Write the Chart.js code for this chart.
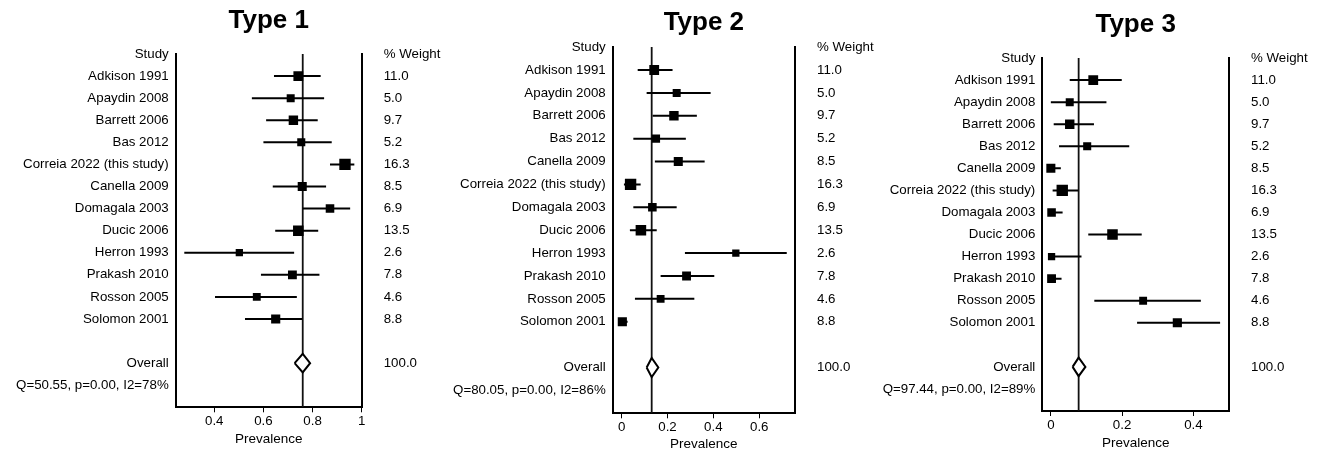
<!DOCTYPE html>
<html>
<head>
<meta charset="utf-8">
<script src="https://cdn.jsdelivr.net/npm/chart.js@4.4.0/dist/chart.umd.min.js"></script>
<style>
  html, body { margin: 0; padding: 0; background: #fff; }
  body { width: 1320px; height: 452px; position: relative; overflow: hidden; }
  .panel { position: absolute; top: 0; height: 452px; }
</style>
</head>
<body>
<div class="panel" style="left:0px;width:450px"><canvas id="type1"></canvas></div>
<div class="panel" style="left:435px;width:450px"><canvas id="type2"></canvas></div>
<div class="panel" style="left:860px;width:460px"><canvas id="type3"></canvas></div>
<script>
// Type 1 lists Correia before Canella, Types 2 and 3 the other way round
const studies1 = ['Adkison 1991', 'Apaydin 2008', 'Barrett 2006', 'Bas 2012', 'Correia 2022 (this study)',
  'Canella 2009', 'Domagala 2003', 'Ducic 2006', 'Herron 1993', 'Prakash 2010', 'Rosson 2005', 'Solomon 2001'];
const studies23 = ['Adkison 1991', 'Apaydin 2008', 'Barrett 2006', 'Bas 2012', 'Canella 2009',
  'Correia 2022 (this study)', 'Domagala 2003', 'Ducic 2006', 'Herron 1993', 'Prakash 2010', 'Rosson 2005', 'Solomon 2001'];
const weights1 = [11.0, 5.0, 9.7, 5.2, 16.3, 8.5, 6.9, 13.5, 2.6, 7.8, 4.6, 8.8];
const weights23 = [11.0, 5.0, 9.7, 5.2, 8.5, 16.3, 6.9, 13.5, 2.6, 7.8, 4.6, 8.8];

// Type 1
const est1 = [0.742, 0.711, 0.722, 0.754, 0.932, 0.758, 0.871, 0.742, 0.502, 0.718, 0.573, 0.650];
const lo1 = [0.643, 0.553, 0.611, 0.600, 0.871, 0.638, 0.760, 0.648, 0.278, 0.590, 0.403, 0.525];
const hi1 = [0.833, 0.847, 0.821, 0.878, 0.970, 0.855, 0.953, 0.823, 0.725, 0.828, 0.736, 0.758];
const overall1 = [0.727, 0.760, 0.790]; // lo, estimate, hi
const stats1 = 'Q=50.55, p=0.00, I2=78%';
const ticks1 = [0.4, 0.6, 0.8, 1];

// Type 2
const est2 = [0.142, 0.240, 0.228, 0.150, 0.247, 0.039, 0.134, 0.084, 0.498, 0.283, 0.170, 0.003];
const lo2 = [0.070, 0.109, 0.135, 0.051, 0.145, 0.010, 0.051, 0.036, 0.276, 0.170, 0.058, 0.000];
const hi2 = [0.222, 0.388, 0.328, 0.280, 0.362, 0.083, 0.240, 0.153, 0.720, 0.404, 0.317, 0.026];
const overall2 = [0.109, 0.131, 0.160];
const stats2 = 'Q=80.05, p=0.00, I2=86%';
const ticks2 = [0, 0.2, 0.4, 0.6];

// Type 3
const est3 = [0.119, 0.053, 0.053, 0.102, 0.000, 0.032, 0.002, 0.173, 0.002, 0.002, 0.259, 0.355];
const lo3 = [0.053, 0.000, 0.008, 0.023, 0.000, 0.005, 0.000, 0.105, 0.000, 0.000, 0.122, 0.242];
const hi3 = [0.199, 0.156, 0.121, 0.220, 0.028, 0.077, 0.033, 0.255, 0.086, 0.030, 0.421, 0.475];
const overall3 = [0.061, 0.078, 0.097];
const stats3 = 'Q=97.44, p=0.00, I2=89%';
const ticks3 = [0, 0.2, 0.4];

Chart.defaults.font.family = 'Arial, "Liberation Sans", sans-serif';
Chart.defaults.font.size = 13.3;
Chart.defaults.color = '#000';

function forest(id, title, studies, weights, est, lo, hi, overall, stats, ticks, lay) {
  const n = studies.length;
  const overallRow = n + 2, statsRow = n + 3, lastRow = n + 4;
  const rows = studies.map((s, i) => i + 1);

  const leftLabels = {0: 'Study', [overallRow]: 'Overall', [statsRow]: stats};
  studies.forEach((s, i) => { leftLabels[i + 1] = s; });
  const rightLabels = {0: '% Weight', [overallRow]: '100.0'};
  weights.forEach((w, i) => { rightLabels[i + 1] = w.toFixed(1); });

  const rowTicks = s => {
    s.ticks = [];
    for (let r = 0; r <= statsRow; r++) s.ticks.push({value: r});
  };

  const [oLo, oEst, oHi] = overall;
  const diamond = {
    type: 'line',
    data: [{x: oLo, y: overallRow}, {x: oEst, y: overallRow - 0.42}, {x: oHi, y: overallRow},
           {x: oEst, y: overallRow + 0.42}, {x: oLo, y: overallRow}],
    borderColor: '#000', borderWidth: 2, borderJoinStyle: 'miter',
    backgroundColor: '#fff', fill: 'shape', pointRadius: 0
  };
  const boxes = {
    type: 'scatter',
    data: rows.map((r, i) => ({x: est[i], y: r})),
    pointStyle: 'rect', backgroundColor: '#000', borderWidth: 0,
    pointRadius: weights.map(w => (6.5 + 0.3 * w) / Math.SQRT2),
    pointHoverRadius: weights.map(w => (6.5 + 0.3 * w) / Math.SQRT2)
  };
  const ciLines = rows.map((r, i) => ({
    type: 'line',
    data: [{x: lo[i], y: r}, {x: hi[i], y: r}],
    borderColor: '#000', borderWidth: 2, pointRadius: 0
  }));
  const refLine = {
    type: 'line',
    data: [{x: oEst, y: 0}, {x: oEst, y: lastRow}],
    borderColor: '#111', borderWidth: 1.8, pointRadius: 0
  };

  return new Chart(document.getElementById(id), {
    type: 'scatter',
    data: {datasets: [diamond, boxes, ...ciLines, refLine]},
    options: {
      responsive: true,
      maintainAspectRatio: false,
      animation: false,
      layout: {padding: 0},
      plugins: {
        legend: {display: false},
        tooltip: {enabled: false},
        title: {
          display: true, text: title, fullSize: false, color: '#000',
          font: {size: 26, weight: 'bold'},
          padding: {top: lay.tTop, bottom: lay.tBottom}
        }
      },
      scales: {
        x: {
          type: 'linear', min: lay.xMin, max: lay.xMax,
          afterBuildTicks: s => { s.ticks = ticks.map(v => ({value: v})); },
          afterFit: s => { s.height = lay.xHeight; },
          ticks: {callback: v => String(v), padding: 1.5, autoSkip: false, maxRotation: 0},
          grid: {drawOnChartArea: false, drawTicks: true, tickLength: 5, color: '#000', lineWidth: 1},
          border: {color: '#000', width: 2},
          title: {display: true, text: 'Prevalence', font: {size: 13.5}, padding: {top: 0, bottom: lay.xTitlePad}}
        },
        y: {
          type: 'linear', position: 'left', reverse: true, min: 0, max: lastRow,
          afterBuildTicks: rowTicks,
          afterFit: s => { s.width = lay.yWidth; },
          ticks: {callback: v => leftLabels[v] || '', padding: 7, autoSkip: false},
          grid: {display: false, drawTicks: false},
          border: {color: '#000', width: 2}
        },
        y2: {
          type: 'linear', position: 'right', reverse: true, min: 0, max: lastRow,
          afterBuildTicks: rowTicks,
          afterFit: s => { s.width = lay.y2Width; },
          ticks: {callback: v => rightLabels[v] || '', padding: 22, autoSkip: false, crossAlign: 'near'},
          grid: {display: false, drawTicks: false},
          border: {color: '#000', width: 2}
        }
      }
    }
  });
}

forest('type1', 'Type 1', studies1, weights1, est1, lo1, hi1, overall1, stats1, ticks1,
  {xMin: 0.243, xMax: 1.0, yWidth: 175.7, y2Width: 88.3, xHeight: 44.7, xTitlePad: 4.9, tTop: 5.6, tBottom: 17.2});
forest('type2', 'Type 2', studies23, weights23, est2, lo2, hi2, overall2, stats2, ticks2,
  {xMin: -0.039, xMax: 0.756, yWidth: 177.7, y2Width: 90, xHeight: 38.7, xTitlePad: 0, tTop: 7.2, tBottom: 8.7});
forest('type3', 'Type 3', studies23, weights23, est3, lo3, hi3, overall3, stats3, ticks3,
  {xMin: -0.024, xMax: 0.5, yWidth: 182.3, y2Width: 91, xHeight: 41, xTitlePad: 0.2, tTop: 8.9, tBottom: 17.9});
</script>
</body>
</html>
